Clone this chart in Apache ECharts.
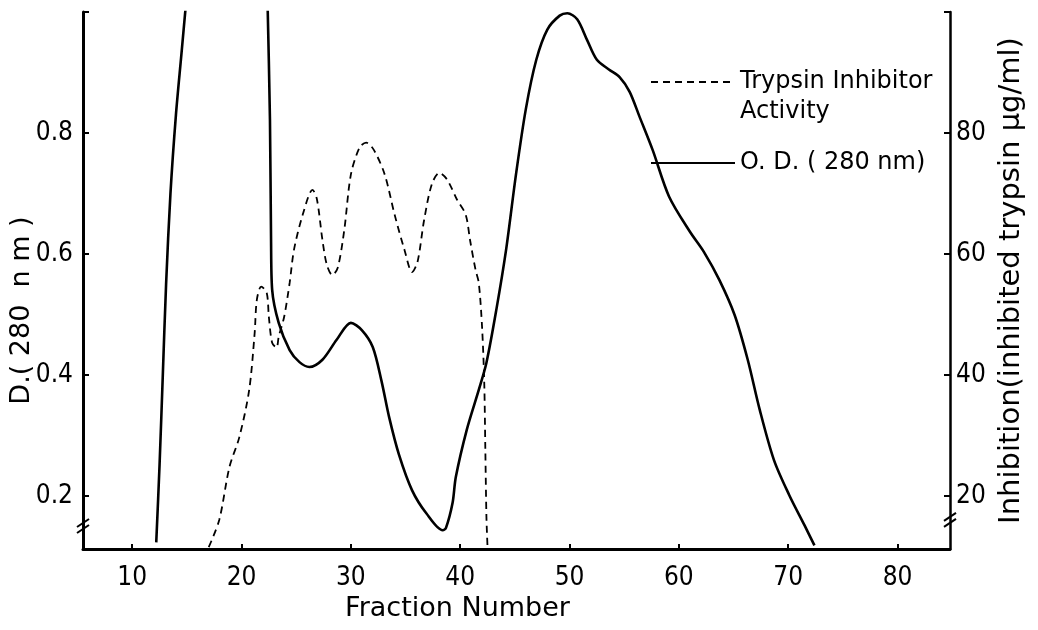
<!DOCTYPE html>
<html>
<head>
<meta charset="utf-8">
<script src="https://cdn.jsdelivr.net/npm/echarts@6/dist/echarts.min.js"></script>
<style>
  html, body { margin: 0; padding: 0; background: #fff; }
  #chart { width: 1038px; height: 630px; }
</style>
</head>
<body>
<div id="chart"></div>
<script>
// axis ticks
const fractionTicks = [10, 20, 30, 40, 50, 60, 70, 80];
const odTicks = [0.2, 0.4, 0.6, 0.8];
const inhTicks = [20, 40, 60, 80];

// O.D. (280 nm) - solid line, left axis (null = gap where the curve runs off the top)
const odFraction = [12.2, 12.5, 12.8, 13.1, 13.5, 14.0, 14.5, 14.9, 15.1, 18,
  22.35, 22.6, 22.7, 22.8, 23.4, 24.4, 25.3, 26.2, 27.4, 28.7, 30.0, 31.0, 32.0, 32.8,
  33.5, 34.4, 35.6, 36.9, 38.4, 38.7, 39.3, 39.6, 40.6, 41.7, 42.4, 43.3, 44.2, 45.1,
  46.0, 46.96, 47.97, 49.1, 49.8, 50.7, 51.6, 52.5, 53.6, 54.6, 55.5, 56.4, 57.6, 59.1,
  61.0, 62.3, 63.7, 65.1, 66.3, 67.4, 68.7, 70.1, 71.5, 72.4];
const odValue = [0.123, 0.25, 0.4, 0.55, 0.7, 0.83, 0.93, 1.01, 1.05, null,
  1.04, 0.822, 0.623, 0.541, 0.486, 0.441, 0.421, 0.413, 0.425, 0.458, 0.486, 0.474, 0.446, 0.39,
  0.33, 0.268, 0.209, 0.171, 0.143, 0.147, 0.188, 0.231, 0.309, 0.375, 0.42, 0.507, 0.607, 0.731,
  0.839, 0.921, 0.971, 0.994, 0.998, 0.988, 0.954, 0.921, 0.905, 0.892, 0.868, 0.827, 0.772, 0.695,
  0.637, 0.603, 0.557, 0.499, 0.425, 0.342, 0.259, 0.201, 0.151, 0.118];

// Trypsin inhibitor activity - dashed line, right axis (µg/ml)
const inhFraction = [17.0, 17.96, 18.9, 19.8, 20.7, 21.2, 21.4, 21.8, 22.3, 22.5, 22.8, 23.2,
  23.4, 23.9, 24.4, 24.8, 25.6, 26.5, 26.9, 27.4, 27.8, 28.3, 28.8, 29.4, 30.0, 30.8, 31.4,
  32.1, 33.1, 34.0, 34.9, 35.6, 36.1, 36.7, 37.4, 38.1, 38.8, 39.7, 40.5, 40.9, 41.4, 41.7,
  42.0, 42.2, 42.3, 42.4, 42.5];
const inhValue = [11.5, 16.0, 24.8, 29.7, 37.5, 46.9, 52.4, 54.6, 53.6, 49.6, 45.3, 44.5,
  46.3, 49.6, 55.2, 60.7, 66.5, 70.6, 69.0, 62.3, 58.2, 56.5, 57.7, 64.0, 73.1, 77.6, 78.4,
  77.2, 73.1, 66.5, 60.7, 57.0, 58.7, 65.6, 71.5, 73.4, 72.3, 69.0, 66.5, 62.3, 57.4, 55.2,
  47.9, 38.7, 27.6, 16.5, 11.5];

const COND = "'DejaVu Sans Condensed', 'DejaVu Sans', sans-serif";
const WIDE = "'DejaVu Sans', sans-serif";
const chart = echarts.init(document.getElementById('chart'));

const odData = odFraction.map((f, i) => [f, odValue[i] === null ? '-' : odValue[i]]);
const inhData = inhFraction.map((f, i) => [f, inhValue[i]]);

const option = {
  backgroundColor: '#ffffff',
  animation: false,
  grid: { left: 83, right: 88, top: 12, bottom: 81, outerBoundsMode: 'none' },
  legend: {
    orient: 'vertical',
    left: 650,
    top: 37,
    padding: 0,
    itemWidth: 84,
    itemHeight: 14,
    itemGap: 21,
    itemStyle: { opacity: 0 },
    data: ['Trypsin Inhibitor\nActivity', 'O. D. ( 280 nm)'],
    // blank first line so the sample line sits level with "Trypsin Inhibitor"
    formatter: name => (name.indexOf('\n') >= 0 ? ' \n' + name : name),
    textStyle: { fontFamily: WIDE, fontSize: 24, color: '#000', lineHeight: 30 }
  },
  xAxis: {
    type: 'value',
    min: 5.5,
    max: 84.8,
    name: 'Fraction Number',
    nameLocation: 'middle',
    nameGap: 45,
    nameTextStyle: { fontFamily: WIDE, fontSize: 27, color: '#000', padding: [0, 118, 0, 0] },
    axisLine: { lineStyle: { color: '#000', width: 3 } },
    axisTick: { inside: true, length: 5, lineStyle: { color: '#000', width: 2 }, customValues: fractionTicks },
    axisLabel: { customValues: fractionTicks, margin: 16, fontFamily: COND, fontSize: 26, color: '#000' },
    splitLine: { show: false }
  },
  yAxis: [
    {
      type: 'value',
      position: 'left',
      min: 0.112,
      max: 1.0,
      name: 'D.( 280  n m )',
      nameLocation: 'middle',
      nameRotate: 90,
      nameGap: 48,
      nameMoveOverlap: false,
      nameTextStyle: { fontFamily: WIDE, fontSize: 27, color: '#000', padding: [0, 60, 0, 0] },
      axisLine: { show: true, lineStyle: { color: '#000', width: 3 } },
      axisTick: { inside: true, length: 6, lineStyle: { color: '#000', width: 2 }, customValues: [0.2, 0.4, 0.6, 0.8, 1.0] },
      axisLabel: { customValues: odTicks, margin: 10, fontFamily: COND, fontSize: 26, color: '#000' },
      splitLine: { show: false }
    },
    {
      type: 'value',
      position: 'right',
      min: 11.2,
      max: 100,
      name: 'Inhibition(inhibited trypsin µg/ml)',
      nameLocation: 'middle',
      nameRotate: 90,
      nameGap: 44,
      nameTextStyle: { fontFamily: WIDE, fontSize: 29, color: '#000' },
      axisLine: { show: true, lineStyle: { color: '#000', width: 2.5 } },
      axisTick: { inside: true, length: 6, lineStyle: { color: '#000', width: 2 }, customValues: [20, 40, 60, 80, 100] },
      axisLabel: { customValues: inhTicks, margin: 6, fontFamily: COND, fontSize: 26, color: '#000' },
      splitLine: { show: false }
    }
  ],
  series: [
    {
      name: 'O. D. ( 280 nm)',
      type: 'line',
      yAxisIndex: 0,
      data: odData,
      smooth: 0.3,
      showSymbol: false,
      symbol: 'none',
      connectNulls: false,
      lineStyle: { color: '#000', width: 2.6 },
      itemStyle: { color: '#000' }
    },
    {
      name: 'Trypsin Inhibitor\nActivity',
      type: 'line',
      yAxisIndex: 1,
      data: inhData,
      smooth: 0.3,
      showSymbol: false,
      symbol: 'none',
      lineStyle: { color: '#000', width: 1.8, type: [7, 5] },
      itemStyle: { color: '#000' }
    }
  ]
};

chart.setOption(option);

// axis break marks (//) near the bottom of both value axes
const breakMark = (axisIndex, value, xPix) => {
  const y = chart.convertToPixel({ yAxisIndex: axisIndex }, value);
  return [0, 6].map(d => ({
    type: 'line',
    shape: { x1: xPix - 6, y1: y + d + 4, x2: xPix + 6, y2: y + d - 4 },
    style: { stroke: '#000', lineWidth: 2 }
  }));
};
const leftX = chart.convertToPixel({ xAxisIndex: 0 }, 5.5);
const rightX = chart.convertToPixel({ xAxisIndex: 0 }, 84.8);
chart.setOption({
  graphic: [].concat(breakMark(0, 0.155, leftX), breakMark(1, 16.5, rightX))
});
</script>
</body>
</html>
